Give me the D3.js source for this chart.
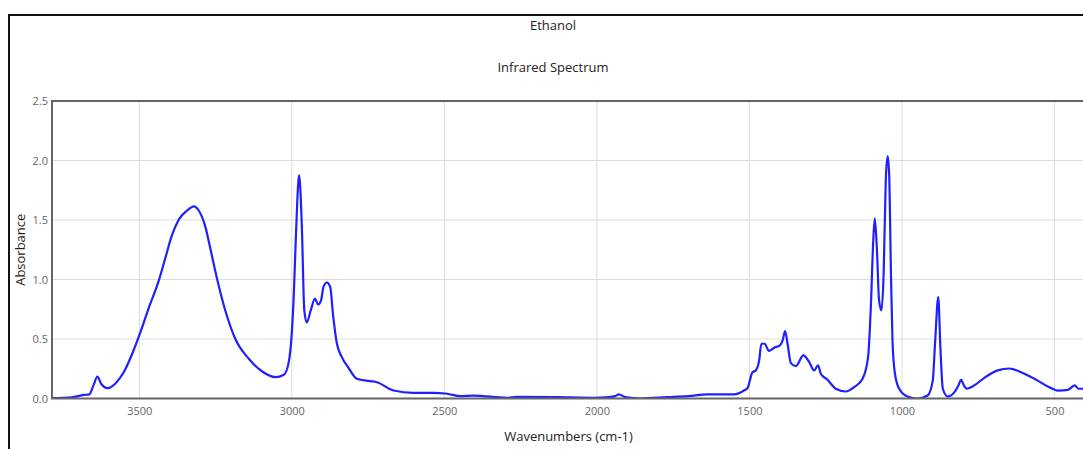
<!DOCTYPE html>
<html>
<head>
<meta charset="utf-8">
<script src="https://cdn.jsdelivr.net/npm/d3@7"></script>
<style>
  html, body { margin: 0; padding: 0; background: #fff; overflow: hidden; }
  svg { display: block; font-family: "Open Sans", "Noto Sans", sans-serif; }
</style>
</head>
<body>
<svg id="chart" width="1083" height="449"></svg>
<script>
const chartTitle = "Ethanol";
const chartSubtitle = "Infrared Spectrum";
const xLabel = "Wavenumbers (cm-1)";
const yLabel = "Absorbance";

const wavenumbers = [3786,3721,3682,3664,3650,3637,3625,3603,3579,3551,3524,3500,3469,3436,3415,3393,3371,3343,3321,3305,3283,3267,3245,3218,3185,3141,3097,3054,3026,3010,3000,2993,2986,2976,2967,2959,2951,2938,2924,2914,2904,2896,2885,2874,2865,2852,2836,2814,2787,2743,2721,2666,2601,2535,2491,2447,2404,2294,2261,2130,2011,1962,1940,1928,1906,1857,1769,1700,1638,1550,1518,1506,1490,1479,1468,1461,1450,1436,1419,1400,1391,1383,1375,1364,1348,1323,1304,1288,1275,1266,1244,1217,1184,1157,1129,1111,1102,1094,1089,1082,1075,1067,1060,1053,1047,1042,1036,1031,1023,1009,982,949,916,899,891,881,874,866,850,828,815,806,797,788,763,730,686,648,610,566,522,489,456,434,421,402];
const absorbance = [0.003,0.01,0.03,0.034,0.11,0.185,0.124,0.087,0.124,0.22,0.37,0.53,0.76,0.99,1.176,1.37,1.50,1.58,1.615,1.58,1.44,1.26,1.007,0.74,0.50,0.334,0.227,0.18,0.2,0.306,0.55,0.9,1.4,1.877,1.44,0.74,0.64,0.74,0.84,0.79,0.825,0.94,0.975,0.937,0.71,0.46,0.348,0.258,0.166,0.146,0.137,0.067,0.048,0.048,0.04,0.02,0.025,0.006,0.014,0.011,0.006,0.011,0.02,0.034,0.011,0.0,0.011,0.02,0.034,0.034,0.067,0.09,0.22,0.236,0.32,0.46,0.46,0.40,0.427,0.446,0.488,0.566,0.46,0.297,0.272,0.362,0.306,0.236,0.278,0.208,0.157,0.082,0.059,0.095,0.166,0.348,0.77,1.33,1.513,1.246,0.825,0.74,1.05,1.835,2.037,1.89,1.05,0.488,0.208,0.082,0.017,0.0,0.025,0.15,0.488,0.853,0.43,0.082,0.017,0.053,0.11,0.157,0.11,0.082,0.11,0.174,0.236,0.252,0.221,0.166,0.101,0.067,0.073,0.11,0.082,0.082];

const xTicks = [3500, 3000, 2500, 2000, 1500, 1000, 500];
const yTicks = [0.0, 0.5, 1.0, 1.5, 2.0, 2.5];

const svg = d3.select("#chart");
const plot = { left: 52, top: 101, right: 1085, bottom: 398.5 };

const x = d3.scaleLinear().domain([3786, 400]).range([plot.left, plot.right]);
const y = d3.scaleLinear().domain([0, 2.5]).range([plot.bottom, plot.top]);

// outer border
svg.append("rect")
  .attr("x", 9).attr("y", 15).attr("width", 1110).attr("height", 460)
  .attr("fill", "none").attr("stroke", "#111").attr("stroke-width", 2);

// titles
svg.append("text").attr("x", 553).attr("y", 30).attr("text-anchor", "middle")
  .attr("font-size", 13).attr("fill", "#222").text(chartTitle);
svg.append("text").attr("x", 553).attr("y", 72).attr("text-anchor", "middle")
  .attr("font-size", 13).attr("fill", "#222").text(chartSubtitle);

// gridlines
const grid = svg.append("g");
grid.selectAll("line.v").data(xTicks).join("line")
  .attr("x1", d => x(d)).attr("x2", d => x(d))
  .attr("y1", plot.top).attr("y2", plot.bottom)
  .attr("stroke", "#dcdcdc").attr("stroke-width", 1);
grid.selectAll("line.h").data(yTicks.filter(d => d > 0 && d < 2.5)).join("line")
  .attr("x1", plot.left).attr("x2", plot.right)
  .attr("y1", d => y(d)).attr("y2", d => y(d))
  .attr("stroke", "#dcdcdc").attr("stroke-width", 1);

// axes (labels only)
const xAxis = d3.axisBottom(x).tickValues(xTicks).tickSize(0).tickPadding(9).tickFormat(d3.format("d"));
const gx = svg.append("g").attr("transform", `translate(0,${plot.bottom})`).call(xAxis);
gx.select(".domain").remove();
gx.selectAll("text").attr("font-size", 11).attr("fill", "#666").attr("font-family", "Open Sans, sans-serif");

const yAxis = d3.axisLeft(y).tickValues(yTicks).tickSize(0).tickPadding(4).tickFormat(d3.format(".1f"));
const gy = svg.append("g").attr("transform", `translate(${plot.left},0)`).call(yAxis);
gy.select(".domain").remove();
gy.selectAll("text").attr("font-size", 11).attr("fill", "#666").attr("font-family", "Open Sans, sans-serif");

// line
const data = wavenumbers.map((w, i) => ({ w, a: absorbance[i] }));
const line = d3.line().x(d => x(d.w)).y(d => y(d.a)).curve(d3.curveMonotoneX);
svg.append("defs").append("clipPath").attr("id", "clip")
  .append("rect").attr("x", plot.left).attr("y", plot.top - 2)
  .attr("width", plot.right - plot.left).attr("height", plot.bottom - plot.top + 2);
svg.append("path").datum(data)
  .attr("clip-path", "url(#clip)")
  .attr("d", line).attr("fill", "none")
  .attr("stroke", "#1f1fff").attr("stroke-width", 2.2)
  .attr("stroke-linejoin", "round");

// plot frame
svg.append("path")
  .attr("d", `M${plot.right + 20},${plot.top}H${plot.left}V${plot.bottom}H${plot.right + 20}`)
  .attr("fill", "none").attr("stroke", "#666").attr("stroke-width", 2);

// axis titles
svg.append("text").attr("x", (plot.left + plot.right) / 2).attr("y", 441)
  .attr("text-anchor", "middle").attr("font-size", 13).attr("fill", "#222").text(xLabel);
svg.append("text").attr("transform", `translate(25,${(plot.top + plot.bottom) / 2}) rotate(-90)`)
  .attr("text-anchor", "middle").attr("font-size", 13).attr("fill", "#222").text(yLabel);
</script>
</body>
</html>
